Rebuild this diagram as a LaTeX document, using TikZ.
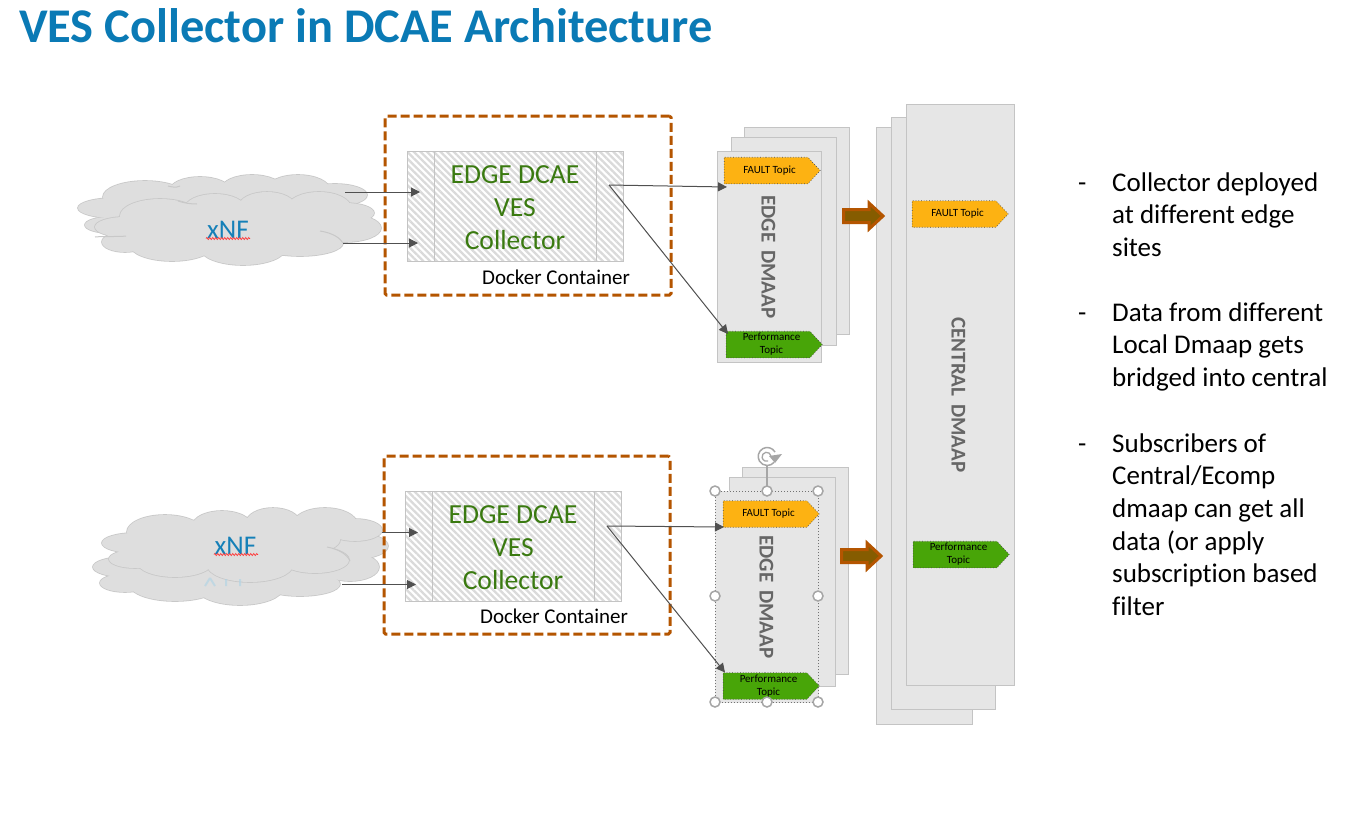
\documentclass[tikz,border=0pt]{standalone}
\usepackage{fontspec}
\setmainfont[Ligatures=NoCommon]{Carlito}
\usetikzlibrary{patterns.meta,arrows.meta,shapes.symbols,decorations.pathmorphing}
\definecolor{titleblue}{HTML}{0A7AB5}
\definecolor{rust}{HTML}{B45500}
\definecolor{arrowfill}{HTML}{855C00}
\definecolor{boxline}{HTML}{C4C4C4}
\definecolor{hatch}{HTML}{DADADA}
\definecolor{leaf}{HTML}{3A7A10}
\definecolor{amber}{HTML}{FDB212}
\definecolor{grass}{HTML}{48A508}
\definecolor{cloudfill}{HTML}{DEDEDE}
\definecolor{cloudedge}{HTML}{C8C8C8}
\definecolor{wire}{HTML}{505050}
\definecolor{nfblue}{HTML}{1580B8}
\definecolor{dmaap}{HTML}{666666}
\definecolor{handle}{HTML}{A6A6A6}
\tikzset{
  hatchbox/.style={draw=boxline,line width=1pt,preaction={fill=white},pattern={Lines[angle=-45,distance=4.7pt,line width=2.3pt]},pattern color=hatch,inner sep=0pt,outer sep=0pt},
  sheet/.style={draw=boxline,line width=1pt,preaction={fill=white},pattern={Dots[distance=2pt,radius=.55pt,angle=0]},pattern color=black!42,inner sep=0pt,outer sep=0pt},
  groupbox/.style={draw=rust,line width=3pt,dash pattern=on 9pt off 4pt,rounded corners=1.5pt,inner sep=0pt,outer sep=0pt},
  topic/.style={shape=signal,signal to=east,signal pointer angle=94,minimum width=96pt,minimum height=26.5pt,inner sep=0pt,outer sep=0pt,draw=black!70,dotted,line width=.7pt,font=\fontsize{11}{13}\selectfont,text=black},
  wirearrow/.style={draw=wire,line width=1pt,-{Triangle[length=9pt,width=9pt,fill=wire]}},
  leaftext/.style={text=leaf,align=center,font=\fontsize{27.6}{33}\selectfont,inner sep=0pt},
  docker/.style={font=\fontsize{21}{24}\selectfont,text=black,inner sep=0pt},
  stacklabel/.style={rotate=-90,font=\bfseries\fontsize{21}{24}\selectfont,text=dmaap,inner sep=0pt},
  nflabel/.style={text=nfblue,font=\fontsize{27}{30}\selectfont,inner sep=0pt,anchor=base},
  squiggle/.style={draw=red!80!white,line width=.7pt,decorate,decoration={zigzag,segment length=3pt,amplitude=1pt}},
  fat/.style={draw=rust,line width=3pt,fill=arrowfill,miter limit=4},
  grip/.style={circle,draw=handle,line width=1.5pt,fill=white,minimum size=10pt,inner sep=0pt},
  bullets/.style={font=\fontsize{27}{32.7}\selectfont,text=black,align=left,inner sep=0pt},
  cloudseam/.style={draw=cloudedge,line width=1pt}
}
\newcommand{\blob}[1]{%
  \foreach \cx/\cy/\ca/\cb in {#1} {\draw[draw=cloudedge,line width=1.6pt] (\cx,\cy) ellipse [x radius=\ca,y radius=\cb];}
  \foreach \cx/\cy/\ca/\cb in {#1} {\fill[cloudfill] (\cx,\cy) ellipse [x radius=\ca,y radius=\cb];}
}
\newcommand{\topictxt}[1]{\hspace*{7pt}\begin{tabular}{@{}c@{}}#1\end{tabular}}
\begin{document}
\begin{tikzpicture}[x=1pt,y=-1pt]
\useasboundingbox (0,0) rectangle (1369,828);
\fill[white] (0,0) rectangle (1369,828);
\node[anchor=base west,text=titleblue,font=\bfseries\fontsize{48.4}{52}\selectfont,inner sep=0pt] (title) at (19,42) {VES Collector in DCAE Architecture};

% upper clouds
\blob{115/208/37/10,145/197/42/16,200/190/30/13,252/188/30/13,298/190/32/15,335/195/32/11,110/225/25/8,240/200/90/14}
\blob{160/216/40/17,215/208/30/14,267/206/28/14,319/208/32/16,345/213/29/10,345/228/36/14,300/243/43/13,243/248/43/17,172/245/42/16,125/242/23/10,125/227/30/10,240/225/100/22}
\draw[cloudseam] (178,201) .. controls (184,203) and (190,204) .. (197,204);
\draw[cloudseam] (168,186) .. controls (172,187) and (176,188) .. (180,186);
\draw[cloudseam] (95,237) .. controls (105,236) and (118,237) .. (126,236);
\draw[cloudseam] (320,231) .. controls (333,233) and (340,238) .. (343,243);
% lower clouds
\blob{125/567/32/10,125/583/25/9,175/585/45/16,240/588/43/17,300/584/40/12,350/567/29/14,355/546/33/13,240/570/100/18}
\blob{135/543/33/10,135/559/26/9,165/532/38/17,222/525/29/14,273/523/27/15,325/524/32/16,355/530/27/11,175/562/38/15,250/565/43/17,315/560/34/13,240/540/100/22}
\draw[cloudseam] (327,547) .. controls (338,549) and (347,554) .. (350,561);
\node[nflabel] (nfa) at (228,238) {xNF};
\node[nflabel] (nfb) at (235.5,554) {xNF};
\draw[squiggle] (206,238.5) -- (250,238.5);
\draw[squiggle] (214,554.5) -- (258,554.5);
\draw[draw=nfblue!35,line width=2pt,opacity=.6] (210,578) -- (205,586) (210,578) -- (215,586) (226,579) -- (226,586) (240,579) -- (240,586);

% group boxes
\node[groupbox,minimum width=286pt,minimum height=179pt] (groupa) at (528,205.5) {};
\node[groupbox,minimum width=286pt,minimum height=178pt] (groupb) at (527,545) {};

% processes
\node[hatchbox,minimum width=215.5pt,minimum height=110pt] (boxa) at (515.25,206) {};
\draw[boxline,line width=1pt] (434,151) -- (434,261) (596,151) -- (596,261);
\node[hatchbox,minimum width=215.5pt,minimum height=110pt] (boxb) at (513.25,546.5) {};
\draw[boxline,line width=1pt] (432,491.5) -- (432,601.5) (594,491.5) -- (594,601.5);
\node[leaftext] (tboxa) at (515,208) {EDGE DCAE\\VES\\Collector};
\node[leaftext] (tboxb) at (513,548) {EDGE DCAE\\VES\\Collector};
\node[docker] (da) at (556,277) {Docker Container};
\node[docker] (db) at (554,616.5) {Docker Container};

% edge stacks
\node[sheet,minimum width=105pt,minimum height=207pt] (sa3) at (797,230.5) {};
\node[sheet,minimum width=105pt,minimum height=208pt] (sa2) at (783.5,241) {};
\node[sheet,minimum width=104pt,minimum height=211pt] (sa1) at (769.5,256.5) {};
\node[sheet,minimum width=106pt,minimum height=207pt] (sb3) at (795,570.5) {};
\node[sheet,minimum width=106pt,minimum height=209pt] (sb2) at (782,581.5) {};
\node[sheet,draw=black!55,dotted,minimum width=103pt,minimum height=211pt] (sb1) at (767,596.5) {};

% central stack
\node[sheet,minimum width=96pt,minimum height=597pt] (cc3) at (924.5,425.5) {};
\node[sheet,minimum width=104pt,minimum height=592pt] (cc2) at (943.5,413) {};
\node[sheet,minimum width=108pt,minimum height=581pt] (cc1) at (960.5,395) {};

% topics
\node[topic,fill=amber] (fa) at (766,170.5) {\topictxt{FAULT Topic}};
\node[topic,fill=grass] (pa) at (768,344.5) {\topictxt{Performance\\Topic}};
\node[topic,fill=amber] (fb) at (765,514) {\topictxt{FAULT Topic}};
\node[topic,fill=grass] (pb) at (765,686) {\topictxt{Performance\\Topic}};
\node[topic,fill=amber] (fc) at (954,214) {\topictxt{FAULT Topic}};
\node[topic,fill=grass] (pc) at (955,554.5) {\topictxt{Performance\\Topic}};

\node[stacklabel] (la) at (768.5,257) {EDGE\hspace{3pt} DMAAP};
\node[stacklabel] (lb) at (766.5,597) {EDGE\hspace{3pt} DMAAP};
\node[stacklabel] (lc) at (958.5,395) {CENTRAL\hspace{3pt} DMAAP};

% wires
\coordinate (a1s) at (345,192); \coordinate (a1e) at (420,192);
\coordinate (a2s) at (343,243); \coordinate (a2e) at (418,243);
\coordinate (b1s) at (382,532.5); \coordinate (b1e) at (418,532.5);
\coordinate (b2s) at (342,584.5); \coordinate (b2e) at (416,584.5);
\coordinate (aout) at (609,185); \coordinate (afe) at (727,187); \coordinate (ape) at (728,334);
\coordinate (bout) at (607,526); \coordinate (bfe) at (724,527); \coordinate (bpe) at (725,672.5);
\draw[wirearrow] (a1s) -- (a1e);
\draw[wirearrow] (a2s) -- (a2e);
\draw[wirearrow] (b1s) -- (b1e);
\draw[wirearrow] (b2s) -- (b2e);
\draw[wirearrow] (aout) -- (afe);
\draw[wirearrow] (aout) -- (ape);
\draw[wirearrow] (bout) -- (bfe);
\draw[wirearrow] (bout) -- (bpe);

% fat arrows
\draw[fat] (843.5,209.5) -- (869,209.5) -- (869,203) -- (883,216) -- (869,229) -- (869,222.5) -- (843.5,222.5) -- cycle;
\draw[fat] (841.5,549.5) -- (867,549.5) -- (867,543) -- (881,556) -- (867,569) -- (867,562.5) -- (841.5,562.5) -- cycle;

% selection handles
\draw[handle,line width=1.2pt] (767,465) -- (767,491);
\foreach \hx/\hy/\hn in {715/491/g1,767/491/g2,818/491/g3,715/596/g4,818/596/g5,715/702/g6,767/702/g7,818/702/g8} {\node[grip] (\hn) at (\hx,\hy) {};}
\draw[handle,line width=1.5pt] (775,452) arc [start angle=-30,end angle=-320,x radius=9,y radius=9];
\draw[handle,line width=1.3pt] (771,456) arc [start angle=-10,end angle=-290,x radius=4.5,y radius=4.5];
\fill[handle] (769,456) -- (782,454) -- (775,463) -- cycle;

% bullets
\node[bullets,anchor=north west] (bula) at (1112,168) {\strut Collector deployed\\at different edge\\sites};
\node[bullets,anchor=north west] (bulb) at (1112,298) {\strut Data from different\\Local Dmaap gets\\bridged into central};
\node[bullets,anchor=north west] (bulc) at (1112,429) {\strut Subscribers of\\Central/Ecomp\\dmaap can get all\\data (or apply\\subscription based\\filter};
\node[bullets,anchor=north west] (da1) at (1078,168) {\strut -};
\node[bullets,anchor=north west] (da2) at (1078,298) {\strut -};
\node[bullets,anchor=north west] (da3) at (1078,429) {\strut -};
\end{tikzpicture}
\end{document}
